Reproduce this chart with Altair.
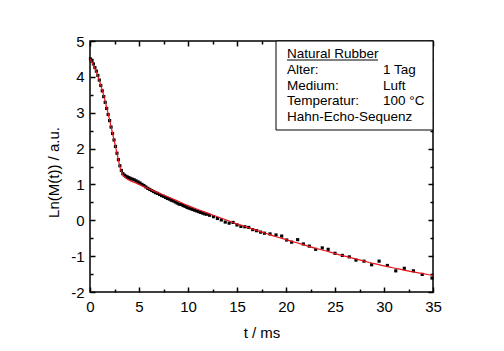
import altair as alt
import pandas as pd

# measured data (t in ms, ln M)
t_data = [0.05, 0.2, 0.35, 0.5, 0.65, 0.8, 0.95, 1.1, 1.25, 1.4, 1.55, 1.7, 1.85, 2.0, 2.15, 2.3, 2.45,
          2.6, 2.75, 2.9, 3.05, 3.2, 3.35, 3.5, 3.65, 3.8, 3.95,
          4.1, 4.3, 4.5, 4.7, 4.9, 5.1, 5.3, 5.5, 5.7, 5.9, 6.1, 6.3, 6.5, 6.7, 6.9, 7.1, 7.3, 7.5,
          7.7, 7.9, 8.1, 8.3, 8.5, 8.7, 8.9, 9.1, 9.3, 9.5, 9.7, 9.9, 10.1, 10.3, 10.5, 10.7, 10.9,
          11.1, 11.3, 11.5, 11.7, 11.9,
          12.2, 12.6, 13.0, 13.4, 13.8, 14.2, 14.6, 15.0, 15.4, 15.8, 16.2, 16.6, 17.0, 17.4, 17.8,
          18.37, 18.98, 19.56, 20.07, 20.58, 21.19, 21.77, 22.38, 23.03, 23.7, 24.3, 25.0, 25.75,
          26.46, 27.14, 27.96, 28.74, 29.5, 30.34, 31.2, 32.07, 33.0, 33.9, 34.9]
v_data = [4.50, 4.44, 4.36, 4.26, 4.16, 4.04, 3.91, 3.76, 3.61, 3.45, 3.29, 3.12, 2.95, 2.78, 2.60, 2.42, 2.24,
          2.06, 1.87, 1.69, 1.52, 1.39, 1.30, 1.26, 1.23, 1.21, 1.19,
          1.17, 1.15, 1.13, 1.10, 1.07, 1.04, 1.00, 0.97, 0.93, 0.89, 0.86, 0.83, 0.80, 0.77, 0.75, 0.72, 0.69, 0.67,
          0.64, 0.61, 0.59, 0.56, 0.54, 0.51, 0.48, 0.45, 0.44, 0.41, 0.39, 0.36, 0.34, 0.32, 0.30, 0.28, 0.26,
          0.24, 0.22, 0.20, 0.18, 0.17,
          0.14, 0.10, 0.05, 0.01, -0.05, -0.08, -0.06, -0.13, -0.17, -0.18, -0.20, -0.26, -0.29, -0.33, -0.36,
          -0.38, -0.41, -0.44, -0.55, -0.61, -0.54, -0.66, -0.72, -0.81, -0.77, -0.81, -0.92, -0.98,
          -1.02, -1.11, -1.14, -1.24, -1.14, -1.26, -1.41, -1.34, -1.41, -1.51, -1.61]

# fit curve
t_fit = [0.0, 0.25, 0.5, 0.75, 1.0, 1.25, 1.5, 1.75, 2.0, 2.25, 2.5, 2.75, 3.0, 3.15, 3.3, 3.45, 3.6, 3.8,
         4.0, 4.5, 5, 6, 7, 8, 9, 10, 11, 12, 13, 14, 15, 16, 17, 18, 19, 20, 21, 22, 23, 24, 25,
         26, 27, 28, 29, 30, 31, 32, 33, 34, 35]
v_fit = [4.50, 4.38, 4.23, 4.06, 3.86, 3.63, 3.37, 3.09, 2.80, 2.49, 2.18, 1.87, 1.56, 1.40, 1.29, 1.23, 1.19, 1.15,
         1.12, 1.06, 1.00, 0.88, 0.76, 0.65, 0.53, 0.41, 0.30, 0.20, 0.10, 0.00, -0.10, -0.19, -0.28, -0.37,
         -0.46, -0.54, -0.62, -0.70, -0.78, -0.85, -0.93, -1.00, -1.07, -1.14, -1.21, -1.27, -1.33, -1.39,
         -1.44, -1.49, -1.54]

x_major = [0, 5, 10, 15, 20, 25, 30, 35]
x_minor = [2.5, 7.5, 12.5, 17.5, 22.5, 27.5, 32.5]
y_major = [-2, -1, 0, 1, 2, 3, 4, 5]
y_minor = [-1.5, -0.5, 0.5, 1.5, 2.5, 3.5, 4.5]

legend_title = "Natural Rubber"
legend_left = ["Alter:", "Medium:", "Temperatur:", "Hahn-Echo-Sequenz"]
legend_right = ["1 Tag", "Luft", "100 °C", ""]

W, H = 343, 251
FONT = "Liberation Sans"

df_data = pd.DataFrame({"t": t_data, "v": v_data})
df_fit = pd.DataFrame({"t": t_fit, "v": v_fit})

xs = alt.Scale(domain=[0, 35], nice=False, zero=False)
ys = alt.Scale(domain=[-2, 5], nice=False, zero=False)

common = dict(domain=False, grid=False, tickColor="black", tickWidth=1.5, labelFont=FONT,
              labelFontSize=15, labelColor="black", labelFlush=False, labelOverlap=False,
              labelExpr="'' + datum.value", titleFont=FONT, titleFontSize=15,
              titleFontWeight="normal", titleColor="black")

def ax(orient, vals, L, labels=False, **kw):
    if labels:
        return alt.Axis(orient=orient, values=vals, tickSize=L, offset=-L, labels=True, **common, **kw)
    return alt.Axis(orient=orient, values=vals, tickSize=L, offset=-L, labels=False, title=None,
                    domain=False, grid=False, tickColor="black", tickWidth=1.5)

x_axes = [
    ax("bottom", x_major, 5, labels=True, labelPadding=7, title="t / ms",
       titleBaseline="alphabetic", titleY=50),
    ax("bottom", x_minor, 3),
    ax("top", x_major, 5),
    ax("top", x_minor, 3),
]
y_axes = [
    ax("left", y_major, 5, labels=True, labelPadding=6, title="Ln(M(t)) / a.u.", titleX=-42,
       titleY=131, titleAngle=270, titleBaseline="middle", titleAlign="center"),
    ax("left", y_minor, 3),
    ax("right", y_major, 5),
    ax("right", y_minor, 3),
]

axis_layers = []
for a in x_axes:
    axis_layers.append(alt.Chart(df_fit).mark_point(opacity=0).encode(
        x=alt.X("t:Q", scale=xs, axis=a), y=alt.Y("v:Q", scale=ys, axis=None)))
for a in y_axes:
    axis_layers.append(alt.Chart(df_fit).mark_point(opacity=0).encode(
        x=alt.X("t:Q", scale=xs, axis=None), y=alt.Y("v:Q", scale=ys, axis=a)))

points = alt.Chart(df_data).mark_square(size=10, color="black", opacity=1).encode(
    x=alt.X("t:Q", scale=xs, axis=None),
    y=alt.Y("v:Q", scale=ys, axis=None),
)
fit = alt.Chart(df_fit).mark_line(color="#e8141c", strokeWidth=1.2, interpolate="monotone", clip=True).encode(
    x=alt.X("t:Q", scale=xs, axis=None), y=alt.Y("v:Q", scale=ys, axis=None)
)

one = pd.DataFrame({"a": [0]})
box = alt.Chart(one).mark_rect(fill="white", stroke="black", strokeWidth=1).encode(
    x=alt.value(186), x2=alt.value(W), y=alt.value(0), y2=alt.value(89))

def txt(s, x, y):
    return alt.Chart(one).mark_text(font=FONT, fontSize=13.5, align="left", baseline="alphabetic",
                                    color="black", text=s).encode(x=alt.value(x), y=alt.value(y))

underline = alt.Chart(one).mark_rule(color="black", strokeWidth=1).encode(
    x=alt.value(197), x2=alt.value(288), y=alt.value(19))

layers = axis_layers + [points, fit, box, txt(legend_title, 197, 16.5), underline]
ys_text = [33, 48.5, 64, 79.5]
for i in range(4):
    layers.append(txt(legend_left[i], 197, ys_text[i]))
    if legend_right[i]:
        layers.append(txt(legend_right[i], 293, ys_text[i]))

chart = alt.layer(*layers).resolve_axis(x="independent", y="independent").properties(
    width=W, height=H,
    autosize=alt.AutoSizeParams(type="none"),
    padding={"left": 90, "top": 41, "right": 71, "bottom": 59},
    background="white",
).configure_view(stroke="black", strokeWidth=1.5)

chart.save("out.html", embed_options={"renderer": "svg", "actions": False})
